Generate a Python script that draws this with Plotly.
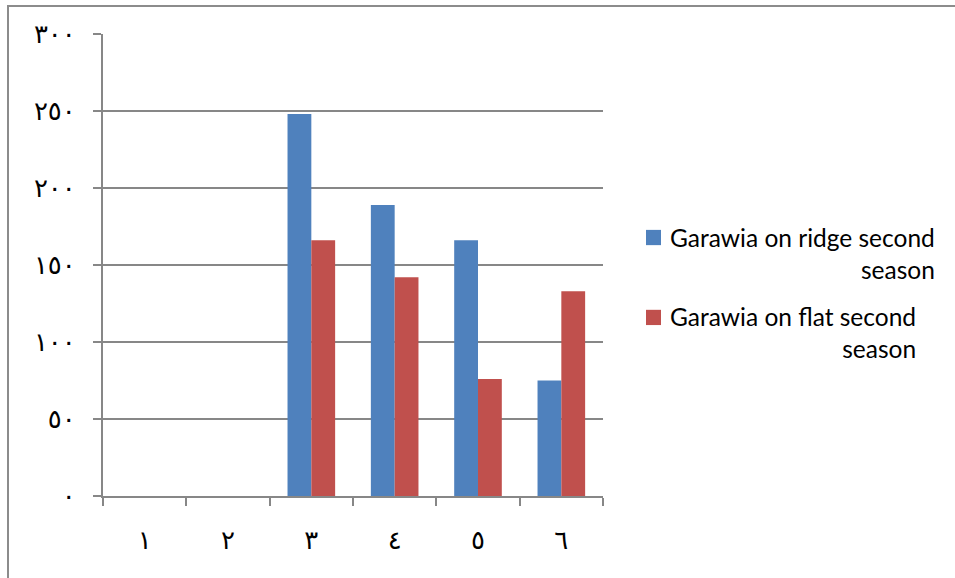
import plotly.graph_objects as go

# Categories and values
categories = ["١", "٢", "٣", "٤", "٥", "٦"]
ridge_values = [0, 0, 248, 189, 166, 75]
flat_values = [0, 0, 166, 142, 76, 133]
series_names = ["Garawia on ridge second season", "Garawia on flat second season"]
legend_labels = ["Garawia on ridge second<br>season", "Garawia on flat second<br>season"]
y_tick_values = [0, 50, 100, 150, 200, 250, 300]
y_tick_labels = ["٠", "٥٠", "١٠٠", "١٥٠", "٢٠٠", "٢٥٠", "٣٠٠"]

blue = "#4F81BD"
red = "#C0504D"
grey = "#878787"

fig = go.Figure()
fig.add_trace(go.Bar(x=categories, y=ridge_values, name=series_names[0],
                     marker=dict(color=blue, line=dict(width=0))))
fig.add_trace(go.Bar(x=categories, y=flat_values, name=series_names[1],
                     marker=dict(color=red, line=dict(width=0))))

fig.update_layout(
    width=955, height=578,
    margin=dict(l=103, r=352, t=34, b=82),
    paper_bgcolor="white", plot_bgcolor="white",
    barmode="group", bargap=0.4286, bargroupgap=0,
    showlegend=False,
    font=dict(family="DejaVu Sans", color="black"),
)

fig.update_yaxes(
    range=[0, 300], tickvals=y_tick_values, ticktext=y_tick_labels,
    showgrid=True, gridcolor=grey, gridwidth=2,
    showline=True, linecolor=grey, linewidth=2,
    ticks="outside", ticklen=8, tickwidth=2, tickcolor=grey,
    ticklabelstandoff=12, tickfont=dict(size=26, family="DejaVu Sans"),
    zeroline=False, fixedrange=True,
)
fig.update_xaxes(
    type="category", showgrid=False,
    showline=True, linecolor=grey, linewidth=2,
    ticks="outside", ticklen=8, tickwidth=2, tickcolor=grey,
    tickson="boundaries",
    ticklabelstandoff=20, tickfont=dict(size=26, family="DejaVu Sans"),
)

# Outer frame around the chart
fig.add_shape(type="rect", xref="paper", yref="paper",
              x0=-0.19, x1=1.9, y0=-0.3, y1=1.0606,
              line=dict(color="#8c8c8c", width=2), layer="below")

# Legend drawn with right-aligned wrapped labels
legend_colors = [blue, red]
square_y = [(0.543, 0.576), (0.370, 0.403)]
text_y = [0.525, 0.353]
for label, col, (sy0, sy1), ty in zip(legend_labels, legend_colors, square_y, text_y):
    fig.add_shape(type="rect", xref="paper", yref="paper",
                  x0=1.086, x1=1.116, y0=sy0, y1=sy1,
                  fillcolor=col, line=dict(width=0))
    fig.add_annotation(xref="paper", yref="paper", x=1.13, y=ty,
                       xanchor="left", yanchor="middle", align="right",
                       text=label, showarrow=False,
                       font=dict(family="Lato", size=24.5, color="black"))

fig.write_html("out.html")
